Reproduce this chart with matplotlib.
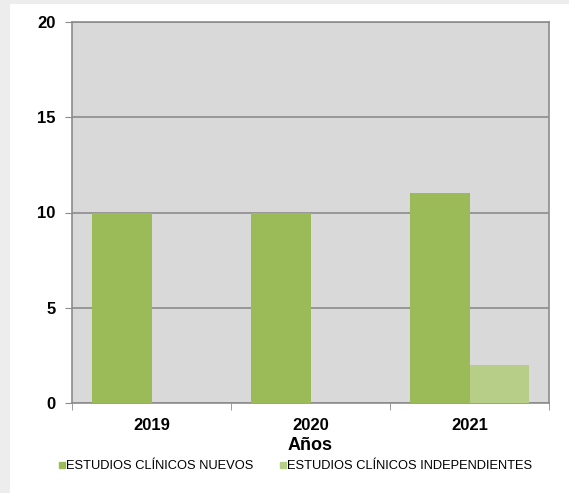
import numpy as np
import matplotlib
matplotlib.use('Agg')
import matplotlib.pyplot as plt
from matplotlib.patches import Rectangle
from matplotlib.lines import Line2D

plt.rcParams['font.family'] = ['Liberation Sans', 'DejaVu Sans']

years = ['2019', '2020', '2021']
nuevos = [10, 10, 11]
independientes = [0, 0, 2]
labels = ['ESTUDIOS CLÍNICOS NUEVOS', 'ESTUDIOS CLÍNICOS INDEPENDIENTES']
colors = ['#9BBB59', '#B7CE89']

fig = plt.figure(figsize=(5.69, 4.93), dpi=100)
fig.patch.set_facecolor('white')
# light grey frame on left and top edges, like the screenshot
fig.patches.append(Rectangle((0, 0), 10 / 569, 1, transform=fig.transFigure,
                             facecolor='#EDEDED', edgecolor='none', zorder=0))
fig.patches.append(Rectangle((0, 1 - 4 / 493), 1, 4 / 493, transform=fig.transFigure,
                             facecolor='#EDEDED', edgecolor='none', zorder=0))

ax = fig.add_axes([72 / 569, 1 - 403 / 493, 477 / 569, 381 / 493])
ax.set_facecolor('#D9D9D9')

x = np.arange(len(years))
w = 0.377
ax.bar(x - w / 2, nuevos, width=w, color=colors[0], zorder=3)
ax.bar(x + w / 2, independientes, width=w, color=colors[1], zorder=3)

ax.set_xlim(-0.5, len(years) - 0.5)
ax.set_ylim(0, 20)
ax.set_yticks([0, 5, 10, 15, 20])
ax.grid(axis='y', color='#8C8C8C', linewidth=1.2, zorder=1)
ax.set_xticks(x)
ax.set_xticklabels(years, fontweight='bold', fontsize=12)
ax.tick_params(axis='x', length=0, pad=11)
ax.set_xticks(np.arange(len(years) + 1) - 0.5, minor=True)
ax.tick_params(axis='x', which='minor', length=5, color='#8C8C8C', direction='out')
ax.tick_params(axis='y', length=5, color='#8C8C8C', direction='out', pad=7)
for lbl in ax.get_yticklabels():
    lbl.set_fontweight('bold')
    lbl.set_fontsize(12)

for side in ['left', 'bottom', 'right', 'top']:
    ax.spines[side].set_color('#8C8C8C')
    ax.spines[side].set_linewidth(1.2)

ax.set_xlabel('Años', fontweight='bold', fontsize=13, labelpad=3)

handles = [Line2D([0], [0], marker='s', color=c, linestyle='None', markersize=4)
           for c in colors]
fig.legend(handles, labels, loc='center', bbox_to_anchor=(295 / 569, 1 - 466 / 493),
           ncol=2, frameon=False, fontsize=9.3, handletextpad=0.0, columnspacing=2.0,
           handlelength=0.6)

fig.savefig('out.png', dpi=100)
